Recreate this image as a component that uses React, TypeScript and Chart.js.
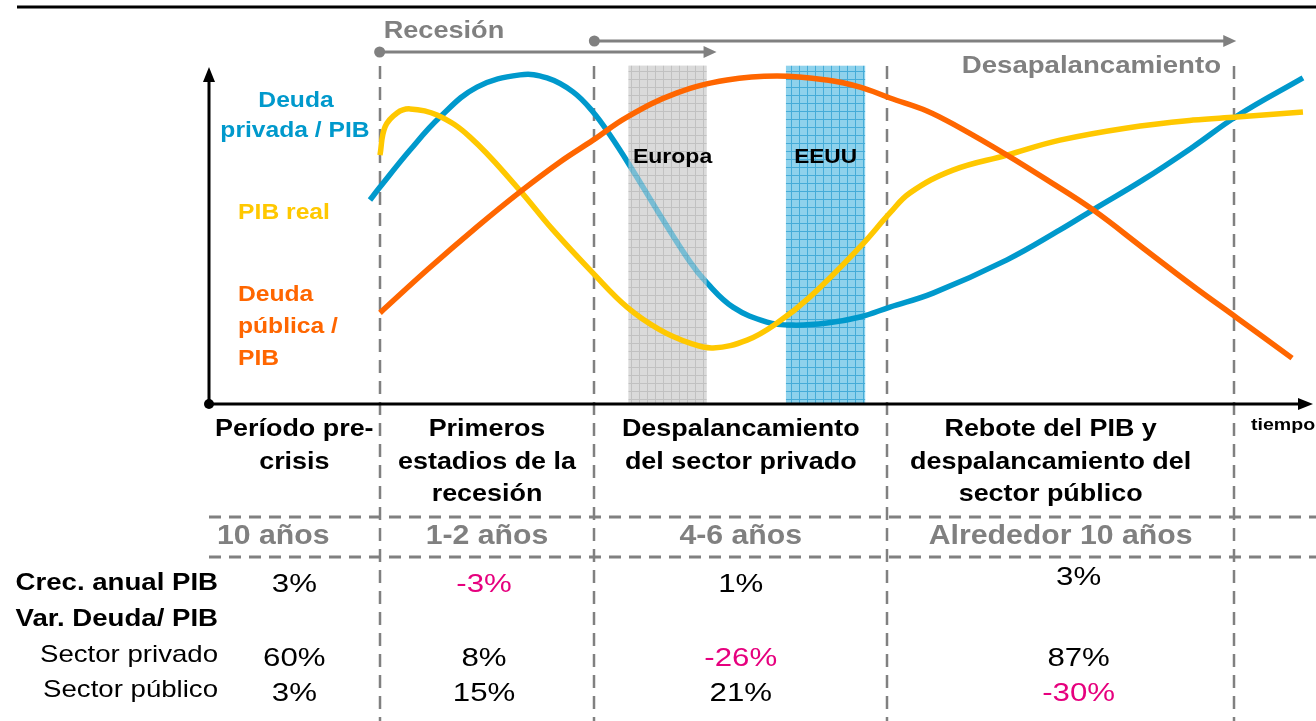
import React, { useEffect, useRef } from "react";
import { Chart, registerables } from "chart.js";

Chart.register(...registerables);

const FONT = '"Liberation Sans", Arial, Helvetica, sans-serif';

// x: time units (0-100 along the time axis), y: level units (0-100)
const privateDebtX = [14.62, 15.53, 18.26, 20.98, 24.34, 28.25, 30.70, 33.06, 34.88, 36.42, 38.24, 40.96, 43.69, 45.23, 47.59, 50.68, 53.04, 56.13, 59.13, 61.85, 65.76, 72.48, 77.29, 80.29, 84.83, 89.37, 93.37, 99.36];
const privateDebtY = [60.0, 63.8, 74.7, 84.4, 93.2, 96.8, 95.9, 91.8, 85.9, 79.1, 70.0, 55.6, 41.8, 35.6, 28.5, 24.1, 23.2, 23.8, 25.6, 28.5, 32.6, 42.4, 51.2, 57.1, 65.9, 75.6, 84.7, 95.9];

const realGdpX = [15.53, 15.99, 17.08, 18.26, 20.71, 23.71, 27.97, 31.24, 34.88, 37.97, 40.96, 43.69, 45.78, 48.87, 51.59, 54.59, 59.13, 61.85, 63.67, 67.57, 72.48, 77.29, 83.38, 89.37, 93.37, 99.36];
const realGdpY = [73.2, 81.5, 85.6, 86.8, 85.0, 78.5, 63.8, 51.2, 38.5, 28.5, 21.8, 17.9, 16.5, 18.8, 23.8, 31.5, 46.2, 56.2, 62.1, 68.8, 73.2, 77.6, 81.2, 83.5, 84.4, 85.9];

const publicDebtX = [15.53, 19.80, 24.34, 28.25, 31.88, 34.88, 37.97, 42.51, 47.05, 51.59, 56.13, 59.13, 61.85, 65.21, 68.21, 72.48, 76.11, 80.29, 84.83, 89.37, 93.37, 98.37];
const publicDebtY = [26.8, 39.4, 52.1, 62.4, 71.2, 77.6, 84.4, 91.5, 95.3, 96.5, 95.3, 93.2, 90.0, 86.2, 81.2, 73.2, 65.9, 57.1, 45.9, 34.7, 25.3, 13.5];

const phaseBounds = [15.5, 35.0, 61.6, 93.1];
const recessionSpan = [15.5, 46.1];
const deleveragingSpan = [35.0, 93.3];
const europeBand = [38.1, 45.2];
const usBand = [52.4, 59.6];
const bandTop = 99.5;

const phaseTitles = [
  ["Período pre-", "crisis"],
  ["Primeros", "estadios de la", "recesión"],
  ["Despalancamiento", "del sector privado"],
  ["Rebote del PIB y", "despalancamiento del", "sector público"],
];
const phaseDurations = ["10 años", "1-2 años", "4-6 años", "Alrededor 10 años"];
const gdpGrowth = ["3%", "-3%", "1%", "3%"];
const privateDebtChange = ["60%", "8%", "-26%", "87%"];
const publicDebtChange = ["3%", "15%", "21%", "-30%"];
const rowLabels = ["Crec. anual PIB", "Var. Deuda/ PIB", "Sector privado", "Sector público"];

const BLUE = "#0099cc";
const YELLOW = "#ffc800";
const ORANGE = "#ff6600";
const GRAY = "#808080";
const MAGENTA = "#e6007e";

function zip(xs: number[], ys: number[]) {
  return xs.map((x, i) => ({ x, y: ys[i] }));
}

function makePattern(ctx: CanvasRenderingContext2D, base: string, line: string) {
  const c = document.createElement("canvas");
  c.width = 8;
  c.height = 8;
  const g = c.getContext("2d")!;
  g.fillStyle = base;
  g.fillRect(0, 0, 8, 8);
  g.fillStyle = line;
  g.fillRect(0, 7, 8, 1);
  g.fillRect(7, 0, 1, 8);
  return ctx.createPattern(c, "repeat")!;
}

function txt(
  ctx: CanvasRenderingContext2D,
  s: string,
  x: number,
  y: number,
  font: string,
  color: string,
  align: CanvasTextAlign = "center",
  stretch = 1.12
) {
  ctx.save();
  ctx.font = font;
  ctx.fillStyle = color;
  ctx.textBaseline = "middle";
  ctx.textAlign = align;
  ctx.translate(x, y);
  ctx.scale(stretch, 1);
  ctx.fillText(s, 0, 0);
  ctx.restore();
}

function drawBand(chart: any, span: number[], fill: any, alpha = 1) {
  const { ctx, scales } = chart;
  const x0 = scales.x.getPixelForValue(span[0]);
  const x1 = scales.x.getPixelForValue(span[1]);
  const y0 = scales.y.getPixelForValue(bandTop);
  const y1 = scales.y.getPixelForValue(0);
  ctx.save();
  ctx.globalAlpha = alpha;
  ctx.fillStyle = fill;
  ctx.fillRect(x0, y0, x1 - x0, y1 - y0);
  ctx.restore();
}

function arrowLine(ctx: CanvasRenderingContext2D, x0: number, x1: number, y: number) {
  ctx.save();
  ctx.strokeStyle = GRAY;
  ctx.fillStyle = GRAY;
  ctx.lineWidth = 3;
  ctx.beginPath();
  ctx.moveTo(x0, y);
  ctx.lineTo(x1 - 10, y);
  ctx.stroke();
  ctx.beginPath();
  ctx.moveTo(x1, y);
  ctx.lineTo(x1 - 13, y - 6);
  ctx.lineTo(x1 - 13, y + 6);
  ctx.closePath();
  ctx.fill();
  ctx.beginPath();
  ctx.arc(x0, y, 5.5, 0, Math.PI * 2);
  ctx.fill();
  ctx.restore();
}

const diagramPlugin = {
  id: "diagram",
  beforeDatasetsDraw(chart: any) {
    const { ctx, scales } = chart;
    const p = chart.$patterns;
    drawBand(chart, europeBand, p.gray);
    drawBand(chart, usBand, p.blue);
    ctx.save();
    ctx.strokeStyle = GRAY;
    ctx.lineWidth = 2.5;
    ctx.setLineDash([13, 8]);
    phaseBounds.forEach((b) => {
      const px = Math.round(scales.x.getPixelForValue(b));
      ctx.beginPath();
      ctx.moveTo(px, 66);
      ctx.lineTo(px, 721);
      ctx.stroke();
    });
    ctx.restore();
  },
  beforeDatasetDraw(chart: any, args: any) {
    if (args.index === 1) {
      drawBand(chart, europeBand, chart.$patterns.gray, 0.55);
    }
  },
  afterDatasetsDraw(chart: any) {
    const { ctx, scales, chartArea } = chart;
    const xs = scales.x;
    const left = chartArea.left;
    const bottom = chartArea.bottom;
    ctx.save();
    ctx.strokeStyle = "#000";
    ctx.lineWidth = 3;
    ctx.beginPath();
    ctx.moveTo(17, 7);
    ctx.lineTo(1316, 7);
    ctx.stroke();
    ctx.beginPath();
    ctx.moveTo(left, bottom);
    ctx.lineTo(left, 78);
    ctx.moveTo(left, bottom);
    ctx.lineTo(1300, bottom);
    ctx.stroke();
    ctx.fillStyle = "#000";
    ctx.beginPath();
    ctx.moveTo(left, 67);
    ctx.lineTo(left - 6, 82);
    ctx.lineTo(left + 6, 82);
    ctx.closePath();
    ctx.fill();
    ctx.beginPath();
    ctx.moveTo(1313, bottom);
    ctx.lineTo(1298, bottom - 6);
    ctx.lineTo(1298, bottom + 6);
    ctx.closePath();
    ctx.fill();
    ctx.beginPath();
    ctx.arc(left, bottom, 5, 0, Math.PI * 2);
    ctx.fill();
    ctx.restore();

    arrowLine(ctx, xs.getPixelForValue(recessionSpan[0]), xs.getPixelForValue(recessionSpan[1]), 52);
    arrowLine(ctx, xs.getPixelForValue(deleveragingSpan[0]), xs.getPixelForValue(deleveragingSpan[1]), 41);
    txt(ctx, "Recesión", xs.getPixelForValue(recessionSpan[0]) + 4, 31, `bold 24px ${FONT}`, GRAY, "left", 1.13);
    txt(ctx, "Desapalancamiento", 1221, 66, `bold 24px ${FONT}`, GRAY, "right", 1.15);

    const lf = `bold 22px ${FONT}`;
    txt(ctx, "Deuda", 296, 101, lf, BLUE);
    txt(ctx, "privada / PIB", 295, 131, lf, BLUE);
    txt(ctx, "PIB real", 284, 213, lf, YELLOW);
    txt(ctx, "Deuda", 238, 295, lf, ORANGE, "left");
    txt(ctx, "pública /", 238, 327, lf, ORANGE, "left");
    txt(ctx, "PIB", 238, 359, lf, ORANGE, "left");

    txt(ctx, "Europa", xs.getPixelForValue((europeBand[0] + europeBand[1]) / 2) + 5, 157, `bold 20px ${FONT}`, "#000", "center", 1.15);
    txt(ctx, "EEUU", xs.getPixelForValue((usBand[0] + usBand[1]) / 2), 157, `bold 20px ${FONT}`, "#000", "center", 1.13);
    txt(ctx, "tiempo", 1251, 425, `bold 17px ${FONT}`, "#000", "left", 1.15);

    const edges = [0, ...phaseBounds];
    const centers = phaseTitles.map((_, i) => xs.getPixelForValue((edges[i] + edges[i + 1]) / 2));
    const titleShift = [0, 0, 0, -10];
    phaseTitles.forEach((lines, i) => {
      lines.forEach((l, j) =>
        txt(ctx, l, centers[i] + titleShift[i], 430 + j * 32.5, `bold 23px ${FONT}`, "#000", "center", 1.17)
      );
    });
    ctx.save();
    ctx.strokeStyle = GRAY;
    ctx.lineWidth = 3;
    ctx.setLineDash([12, 8]);
    [517, 557].forEach((yy) => {
      ctx.beginPath();
      ctx.moveTo(left, yy);
      ctx.lineTo(1316, yy);
      ctx.stroke();
    });
    ctx.restore();
    const durShift = [-21, 0, 0, 0];
    phaseDurations.forEach((d, i) =>
      txt(ctx, d, centers[i] + durShift[i], 537, `bold 27px ${FONT}`, GRAY, "center", 1.12)
    );

    const rowY = [583, 619, 655, 690];
    rowLabels.forEach((r, i) =>
      txt(ctx, r, 218, rowY[i], `${i < 2 ? "bold " : ""}24px ${FONT}`, "#000", "right", 1.15)
    );
    const vf = `26px ${FONT}`;
    const valShift = [0, -3, 0, 18];
    const colorOf = (v: string) => (v.startsWith("-") ? MAGENTA : "#000");
    gdpGrowth.forEach((v, i) =>
      txt(ctx, v, centers[i] + valShift[i], i === 3 ? 578 : 585, vf, colorOf(v), "center", 1.2)
    );
    privateDebtChange.forEach((v, i) =>
      txt(ctx, v, centers[i] + valShift[i], 659, vf, colorOf(v), "center", 1.2)
    );
    publicDebtChange.forEach((v, i) =>
      txt(ctx, v, centers[i] + valShift[i], 694, vf, colorOf(v), "center", 1.2)
    );
  },
};

export default function App() {
  const ref = useRef<HTMLCanvasElement | null>(null);
  useEffect(() => {
    const canvas = ref.current!;
    const ctx = canvas.getContext("2d")!;
    const lineDs = (label: string, data: any[], color: string) => ({
      label,
      data,
      borderColor: color,
      backgroundColor: color,
      borderWidth: 5.5,
      pointRadius: 0,
      fill: false,
      tension: 0.4,
      borderCapStyle: "butt" as const,
      borderJoinStyle: "round" as const,
      clip: false as any,
    });
    const chart: any = new Chart(canvas, {
      type: "line",
      data: {
        datasets: [
          lineDs("Deuda pública / PIB", zip(publicDebtX, publicDebtY), ORANGE),
          lineDs("PIB real", zip(realGdpX, realGdpY), YELLOW),
          lineDs("Deuda privada / PIB", zip(privateDebtX, privateDebtY), BLUE),
        ],
      },
      options: {
        animation: false,
        responsive: false,
        devicePixelRatio: 1,
        layout: { padding: { left: 209, right: 6, top: 64, bottom: 317 } },
        scales: {
          x: { type: "linear", min: 0, max: 100, display: false },
          y: { type: "linear", min: 0, max: 100, display: false },
        },
        plugins: { legend: { display: false }, tooltip: { enabled: false } },
        events: [],
      },
      plugins: [
        {
          id: "patterns",
          beforeInit(c: any) {
            c.$patterns = {
              gray: makePattern(ctx, "#dadada", "#c2c2c2"),
              blue: makePattern(ctx, "#8ed2ec", "#45acd8"),
            };
          },
        },
        diagramPlugin,
      ],
    });
    return () => chart.destroy();
  }, []);
  return (
    <div style={{ position: "fixed", left: 0, top: 0, width: 1316, height: 721, background: "#fff" }}>
      <canvas ref={ref} width={1316} height={721} style={{ display: "block" }} />
    </div>
  );
}
